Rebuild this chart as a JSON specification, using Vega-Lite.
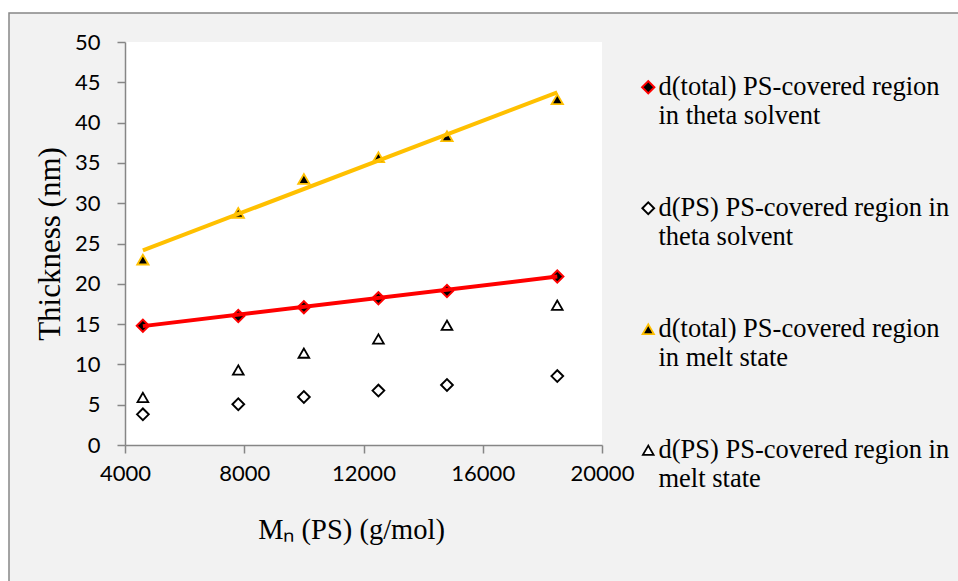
{
  "$schema": "https://vega.github.io/schema/vega-lite/v6.json",
  "width": 477,
  "height": 403,
  "autosize": {"type": "none"},
  "padding": {"left": 125, "top": 42, "right": 356, "bottom": 136},
  "background": "white",
  "config": {
    "view": {"stroke": null},
    "axis": {
      "grid": false,
      "domainColor": "#868686",
      "domainWidth": 1.5,
      "tickColor": "#868686",
      "tickWidth": 1.5,
      "tickSize": 8,
      "labelFont": "Lato",
      "labelFontSize": 22,
      "labelColor": "#000000",
      "labelOverlap": false,
      "labelFlush": false,
      "titleFont": "Liberation Serif",
      "titleFontWeight": "normal",
      "titleColor": "#000000"
    },
    "legend": {
      "orient": "none",
      "legendX": 510,
      "legendY": 32,
      "padding": 0,
      "rowPadding": 65,
      "labelFont": "Liberation Serif",
      "labelFontSize": 26.5,
      "labelLineHeight": 30,
      "labelLimit": 400,
      "labelColor": "#000000",
      "labelOffset": -3,
      "labelBaseline": "middle",
      "symbolOpacity": 1,
      "zindex": 1
    }
  },
  "datasets": {
    "points": [
      {"Mn": 4600, "thickness": 14.8, "series": "d(total) PS-covered region|in theta solvent"},
      {"Mn": 7800, "thickness": 16.0, "series": "d(total) PS-covered region|in theta solvent"},
      {"Mn": 10000, "thickness": 17.1, "series": "d(total) PS-covered region|in theta solvent"},
      {"Mn": 12500, "thickness": 18.2, "series": "d(total) PS-covered region|in theta solvent"},
      {"Mn": 14800, "thickness": 19.1, "series": "d(total) PS-covered region|in theta solvent"},
      {"Mn": 18500, "thickness": 20.9, "series": "d(total) PS-covered region|in theta solvent"},
      {"Mn": 4600, "thickness": 3.8, "series": "d(PS) PS-covered region in|theta solvent"},
      {"Mn": 7800, "thickness": 5.05, "series": "d(PS) PS-covered region in|theta solvent"},
      {"Mn": 10000, "thickness": 5.95, "series": "d(PS) PS-covered region in|theta solvent"},
      {"Mn": 12500, "thickness": 6.75, "series": "d(PS) PS-covered region in|theta solvent"},
      {"Mn": 14800, "thickness": 7.45, "series": "d(PS) PS-covered region in|theta solvent"},
      {"Mn": 18500, "thickness": 8.55, "series": "d(PS) PS-covered region in|theta solvent"},
      {"Mn": 4600, "thickness": 23.0, "series": "d(total) PS-covered region|in melt state"},
      {"Mn": 7800, "thickness": 28.8, "series": "d(total) PS-covered region|in melt state"},
      {"Mn": 10000, "thickness": 33.0, "series": "d(total) PS-covered region|in melt state"},
      {"Mn": 12500, "thickness": 35.7, "series": "d(total) PS-covered region|in melt state"},
      {"Mn": 14800, "thickness": 38.3, "series": "d(total) PS-covered region|in melt state"},
      {"Mn": 18500, "thickness": 42.9, "series": "d(total) PS-covered region|in melt state"},
      {"Mn": 4600, "thickness": 5.9, "series": "d(PS) PS-covered region in|melt state"},
      {"Mn": 7800, "thickness": 9.3, "series": "d(PS) PS-covered region in|melt state"},
      {"Mn": 10000, "thickness": 11.4, "series": "d(PS) PS-covered region in|melt state"},
      {"Mn": 12500, "thickness": 13.15, "series": "d(PS) PS-covered region in|melt state"},
      {"Mn": 14800, "thickness": 14.85, "series": "d(PS) PS-covered region in|melt state"},
      {"Mn": 18500, "thickness": 17.35, "series": "d(PS) PS-covered region in|melt state"}
    ],
    "trend": [
      {"Mn": 4600, "thickness": 14.75, "trend": "theta"},
      {"Mn": 18500, "thickness": 20.9, "trend": "theta"},
      {"Mn": 4600, "thickness": 24.15, "trend": "melt"},
      {"Mn": 18500, "thickness": 43.75, "trend": "melt"}
    ]
  },
  "layer": [
    {
      "data": {"values": [{"part": "chart area"}]},
      "mark": {"type": "rect", "fill": "#f2f2f2", "stroke": "#878787", "strokeWidth": 1.5, "clip": false},
      "encoding": {
        "x": {"datum": 109, "type": "quantitative", "scale": {"domain": [4000, 20000]}, "title": "Mₙ (PS) (g/mol)", "axis": {"zindex": 2, "values": [4000, 8000, 12000, 16000, 20000], "format": "d", "titleFontSize": 28.5, "labelPadding": 10, "titlePadding": 31, "titleX": 226}},
        "x2": {"datum": 34000},
        "y": {"datum": 53.6, "type": "quantitative", "scale": {"domain": [0, 50]}, "title": "Thickness (nm)", "axis": {"zindex": 2, "values": [0, 5, 10, 15, 20, 25, 30, 35, 40, 45, 50], "titleFontSize": 31, "labelPadding": 17, "titlePadding": 8}},
        "y2": {"datum": -25}
      }
    },
    {
      "data": {"values": [{"part": "plot area"}]},
      "mark": {"type": "rect", "fill": "white", "clip": false},
      "encoding": {
        "x": {"datum": 4000, "type": "quantitative", "title": "Mₙ (PS) (g/mol)"},
        "x2": {"datum": 20000},
        "y": {"datum": 0, "type": "quantitative", "title": "Thickness (nm)"},
        "y2": {"datum": 50}
      }
    },
    {
      "data": {"name": "points"},
      "mark": {"type": "point", "filled": true, "opacity": 1},
      "encoding": {
        "x": {"field": "Mn", "type": "quantitative", "title": "Mₙ (PS) (g/mol)"},
        "y": {"field": "thickness", "type": "quantitative", "title": "Thickness (nm)"},
        "shape": {
          "field": "series", "type": "nominal",
          "scale": {
            "domain": ["d(total) PS-covered region|in theta solvent", "d(PS) PS-covered region in|theta solvent", "d(total) PS-covered region|in melt state", "d(PS) PS-covered region in|melt state"],
            "range": ["diamond", "diamond", "triangle-up", "triangle-up"]
          },
          "legend": {"title": null, "labelExpr": "split(datum.label, '|')"}
        },
        "fill": {
          "field": "series", "type": "nominal",
          "scale": {
            "domain": ["d(total) PS-covered region|in theta solvent", "d(PS) PS-covered region in|theta solvent", "d(total) PS-covered region|in melt state", "d(PS) PS-covered region in|melt state"],
            "range": ["#000000", "#ffffff", "#000000", "#ffffff"]
          },
          "legend": {"title": null, "labelExpr": "split(datum.label, '|')"}
        },
        "stroke": {
          "field": "series", "type": "nominal",
          "scale": {
            "domain": ["d(total) PS-covered region|in theta solvent", "d(PS) PS-covered region in|theta solvent", "d(total) PS-covered region|in melt state", "d(PS) PS-covered region in|melt state"],
            "range": ["#ff0000", "#000000", "#ffc000", "#000000"]
          },
          "legend": {"title": null, "labelExpr": "split(datum.label, '|')"}
        },
        "size": {
          "field": "series", "type": "nominal",
          "scale": {
            "domain": ["d(total) PS-covered region|in theta solvent", "d(PS) PS-covered region in|theta solvent", "d(total) PS-covered region|in melt state", "d(PS) PS-covered region in|melt state"],
            "range": [150, 115, 220, 190]
          },
          "legend": {"title": null, "labelExpr": "split(datum.label, '|')"}
        },
        "strokeWidth": {
          "field": "series", "type": "nominal",
          "scale": {
            "domain": ["d(total) PS-covered region|in theta solvent", "d(PS) PS-covered region in|theta solvent", "d(total) PS-covered region|in melt state", "d(PS) PS-covered region in|melt state"],
            "range": [2, 1.8, 2, 1.8]
          },
          "legend": {"title": null, "labelExpr": "split(datum.label, '|')"}
        }
      }
    },
    {
      "data": {"name": "trend"},
      "transform": [{"filter": "datum.trend === 'theta'"}],
      "mark": {"type": "line", "color": "#ff0000", "strokeWidth": 4},
      "encoding": {
        "x": {"field": "Mn", "type": "quantitative", "title": "Mₙ (PS) (g/mol)"},
        "y": {"field": "thickness", "type": "quantitative", "title": "Thickness (nm)"}
      }
    },
    {
      "data": {"name": "trend"},
      "transform": [{"filter": "datum.trend === 'melt'"}],
      "mark": {"type": "line", "color": "#ffc000", "strokeWidth": 4},
      "encoding": {
        "x": {"field": "Mn", "type": "quantitative", "title": "Mₙ (PS) (g/mol)"},
        "y": {"field": "thickness", "type": "quantitative", "title": "Thickness (nm)"}
      }
    }
  ]
}
